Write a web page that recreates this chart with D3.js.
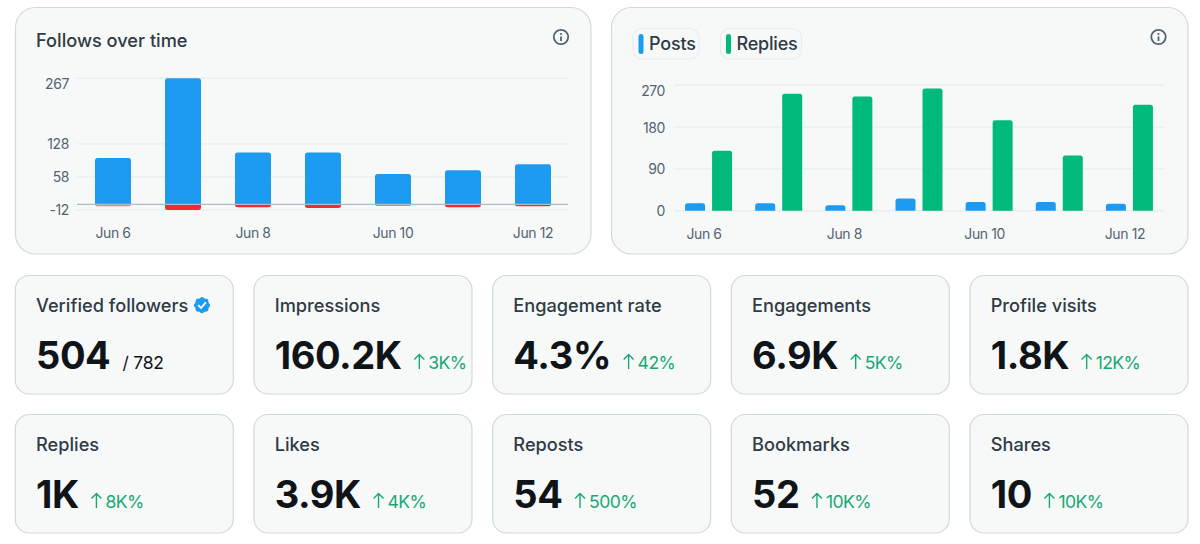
<!DOCTYPE html>
<html>
<head>
<meta charset="utf-8">
<script src="https://cdn.jsdelivr.net/npm/d3@7"></script>
<style>
html,body{margin:0;padding:0;background:#fff;overflow:hidden}
svg{display:block}
text{font-family:Inter,"Noto Sans",sans-serif}
</style>
</head>
<body>
<svg id="board" width="1200" height="544"></svg>
<script>
// Seven days of account activity
const days = ["Jun 6","Jun 7","Jun 8","Jun 9","Jun 10","Jun 11","Jun 12"];
const dayTicks = ["Jun 6","Jun 8","Jun 10","Jun 12"];
const followsGained = [98,267,110,110,64,72,85];
const followsLost = [-4,-12,-6,-8,-3.5,-6,-4];
const followTicks = [-12,58,128,267];
const posts = [16,16,12,26,19,19,15];
const replies = [129,252,246,263,195,119,228];
const activityTicks = [0,90,180,270];

// Stat tiles, row by row
const statNames = ["Verified followers","Impressions","Engagement rate","Engagements","Profile visits","Replies","Likes","Reposts","Bookmarks","Shares"];
const statValues = ["504","160.2K","4.3%","6.9K","1.8K","1K","3.9K","54","52","10"];
const statChanges = ["/ 782","3K%","42%","5K%","12K%","8K%","4K%","500%","10K%","10K%"];

const BLUE="#1d9bf0", GREEN="#00ba7c", RED="#f91c2e", INK="#0f1419", SLATE="#536471", LABEL="#2f3b45", RISE="#17a974", CARD="#f7f9f9", EDGE="#cfd9de", GRID="#eaeef1";
const svg = d3.select("#board");

function card(x,y,w,h,r){
  svg.append("rect").attr("x",x).attr("y",y).attr("width",w).attr("height",h).attr("rx",r)
    .attr("fill",CARD).attr("stroke",EDGE).attr("stroke-width",1.2);
}
function infoIcon(cx,cy){
  const g=svg.append("g").attr("transform",`translate(${cx},${cy})`);
  g.append("circle").attr("r",7.2).attr("fill","none").attr("stroke",SLATE).attr("stroke-width",1.8);
  g.append("circle").attr("cy",-3).attr("r",1.1).attr("fill",SLATE);
  g.append("rect").attr("x",-.9).attr("y",-.6).attr("width",1.8).attr("height",4.6).attr("fill",SLATE);
}
// Bar with rounded corners at its far end only
function roundedBar(x,w,y0,y1,r){
  const up=y1<y0, s=up?1:-1, t=Math.min(r,Math.abs(y0-y1));
  return `M${x},${y0}V${y1+s*t}Q${x},${y1} ${x+t},${y1}H${x+w-t}Q${x+w},${y1} ${x+w},${y1+s*t}V${y0}Z`;
}
function axisStyle(g){
  g.select(".domain").remove();
  g.selectAll(".tick line").remove();
  g.selectAll("text").attr("fill",SLATE).attr("font-size",14).attr("font-family","Inter").attr("letter-spacing",-.4);
}

/* Follows over time */
card(15.5,7.5,575.5,246.5,20);
svg.append("text").attr("x",36).attr("y",46.5).attr("font-size",18.2).attr("font-weight",500).attr("fill",LABEL).text("Follows over time");
infoIcon(561,37);

const yF=d3.scaleLinear().domain([-12,267]).range([210,78.3]);
const xF=d3.scaleBand().domain(days).range([78,568]).paddingInner(.486).paddingOuter(.243);
svg.append("g").selectAll("line").data(followTicks).join("line")
  .attr("x1",77).attr("x2",568).attr("y1",d=>yF(d)).attr("y2",d=>yF(d)).attr("stroke",GRID).attr("stroke-width",1.4);
svg.append("g").selectAll("path").data(days).join("path")
  .attr("d",(d,i)=>roundedBar(xF(d),xF.bandwidth(),yF(0),yF(followsGained[i]),2.5)).attr("fill",BLUE);
svg.append("g").selectAll("path").data(days).join("path")
  .attr("d",(d,i)=>roundedBar(xF(d),xF.bandwidth(),yF(0),yF(followsLost[i]),2.5)).attr("fill",RED)
  .attr("fill-opacity",(d,i)=>i===0||i===4?.6:.95);
svg.append("line").attr("x1",77).attr("x2",568).attr("y1",yF(0)).attr("y2",yF(0)).attr("stroke","#aebbc6").attr("stroke-width",1.2);
svg.append("g").attr("transform","translate(69,0)")
  .call(d3.axisLeft(yF).tickValues(followTicks).tickSize(0).tickPadding(0).tickFormat(d=>d<0?"-"+Math.abs(d):d)).call(axisStyle)
  .selectAll("text").attr("transform",d=>d===267?"translate(0,6)":"translate(0,.5)");
svg.append("g").attr("transform","translate(0,237.5)")
  .call(d3.axisBottom(xF).tickValues(dayTicks).tickSize(0).tickPadding(0)).call(axisStyle)
  .selectAll("text").attr("dy",0);

/* Posts and replies */
card(611.5,7.5,576.5,246.5,20);
infoIcon(1158.5,37);

const legendNames=["Posts","Replies"], legendColors=[BLUE,GREEN], legendBox=[[633,66],[720.5,81]];
legendNames.forEach((n,i)=>{
  const [lx,lw]=legendBox[i];
  svg.append("rect").attr("x",lx).attr("y",28.5).attr("width",lw).attr("height",30.5).attr("rx",9)
    .attr("fill","none").attr("stroke","#e7ecf0").attr("stroke-width",1.2);
  svg.append("rect").attr("x",lx+5.5).attr("y",34).attr("width",5).attr("height",20).attr("rx",2.5).attr("fill",legendColors[i]);
  svg.append("text").attr("x",lx+16).attr("y",49.5).attr("font-size",18).attr("font-weight",500).attr("letter-spacing",-.2).attr("fill",LABEL).text(n);
});

const yA=d3.scaleLinear().domain([0,270]).range([210.7,85.3]);
const xA=d3.scaleBand().domain(days).range([669,1160]);
const xSide=d3.scaleBand().domain(["posts","replies"]).range([xA.bandwidth()/2-19,xA.bandwidth()/2+28]).paddingInner(.259).paddingOuter(0);
svg.append("g").selectAll("line").data(activityTicks).join("line")
  .attr("x1",674).attr("x2",1165).attr("y1",d=>yA(d)).attr("y2",d=>yA(d)).attr("stroke",GRID).attr("stroke-width",1.4);
[["posts",posts,BLUE],["replies",replies,GREEN]].forEach(([key,vals,col])=>{
  svg.append("g").selectAll("path").data(days).join("path")
    .attr("d",(d,i)=>roundedBar(xA(d)+xSide(key),xSide.bandwidth(),yA(0),yA(vals[i]),2.5)).attr("fill",col);
});
svg.append("g").attr("transform","translate(665,0)")
  .call(d3.axisLeft(yA).tickValues(activityTicks).tickSize(0).tickPadding(0)).call(axisStyle)
  .selectAll("text").attr("transform",d=>d===270?"translate(0,6)":"translate(0,.5)");
svg.append("g").attr("transform","translate(0,238.5)")
  .call(d3.axisBottom(xA).tickValues(dayTicks).tickSize(0).tickPadding(0)).call(axisStyle)
  .selectAll("text").attr("dy",0);

/* Stat tiles */
const tileX=d3.scalePoint().domain(d3.range(5)).range([15.3,970]);
const tileY=[275.5,414.5];
// Scalloped outline of the verified badge
const scallop=d3.lineRadial().curve(d3.curveCardinalClosed)
  .angle((d,i)=>i*Math.PI/8).radius((d,i)=>i%2?7.2:8.2)(d3.range(16));
statNames.forEach((name,i)=>{
  const col=i%5,row=Math.floor(i/5),x=tileX(col),y=tileY[row];
  card(x,y,218,118.5,14);
  svg.append("text").attr("x",x+20.7).attr("y",y+36.5).attr("font-size",18.2).attr("font-weight",500).attr("fill",LABEL).text(name);
  const big=svg.append("text").attr("x",x+20.7).attr("y",y+93.5).attr("font-size",38).attr("font-weight",700).attr("letter-spacing",-.4).attr("fill",INK).text(statValues[i]);
  const end=x+20.7+big.node().getComputedTextLength();
  if(i===0){
    svg.append("text").attr("x",end+12).attr("y",y+93.5).attr("font-size",17.5).attr("letter-spacing",-.2).attr("fill",INK).text(statChanges[i]);
    const b=svg.append("g").attr("transform",`translate(${x+186.7},${y+29.7})`);
    b.append("path").attr("fill",BLUE).attr("d",scallop);
    b.append("path").attr("d","M-3.8,0L-1,2.8L3.8,-2.8").attr("fill","none").attr("stroke","#fff").attr("stroke-width",1.8);
  } else {
    const g=svg.append("g").attr("transform",`translate(${end+17.5},${y+93.5})`);
    g.append("path").attr("d","M0,0V-14.5M-5,-9.5L0,-14.5L5,-9.5").attr("fill","none").attr("stroke",RISE).attr("stroke-width",1.4);
    g.append("text").attr("x",9).attr("y",0).attr("font-size",17.6).attr("letter-spacing",-.6).attr("fill",RISE).text(statChanges[i]);
  }
});
</script>
</body>
</html>
